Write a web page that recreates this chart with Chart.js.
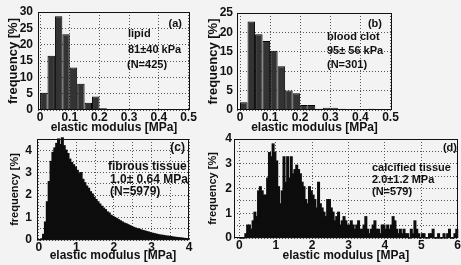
<!DOCTYPE html>
<html>
<head>
<meta charset="utf-8">
<title>Elastic modulus histograms</title>
<script src="https://cdn.jsdelivr.net/npm/chart.js"></script>
<style>
  body { margin: 0; width: 461px; height: 265px; overflow: hidden; position: relative;
         background: #f3f3f3; font-family: "Liberation Sans", Arial, sans-serif; font-weight: bold; color: #111; }
  canvas { position: absolute; }
  .note { position: absolute; font-size: 11px; line-height: 13px; white-space: nowrap; }
  .big { font-size: 12px; }
</style>
</head>
<body>
<canvas id="lipid" width="205" height="135" style="left:0;top:0"></canvas>
<canvas id="clot" width="256" height="135" style="left:205px;top:0"></canvas>
<canvas id="fibrous" width="205" height="133" style="left:0;top:132px"></canvas>
<canvas id="calcified" width="256" height="133" style="left:205px;top:132px"></canvas>

<div class="note" style="right:279px;top:17px">(a)</div>
<div class="note" style="left:128px;top:27px">lipid</div>
<div class="note" style="left:128px;top:43px">81±40 kPa</div>
<div class="note" style="left:127px;top:58px">(N=425)</div>

<div class="note" style="right:79px;top:17px">(b)</div>
<div class="note" style="left:327px;top:30px">blood clot</div>
<div class="note" style="left:327px;top:44px">95± 56 kPa</div>
<div class="note" style="left:327px;top:58px">(N=301)</div>

<div class="note big" style="right:276px;top:141px">(c)</div>
<div class="note big" style="left:108px;top:160px">fibrous tissue</div>
<div class="note big" style="left:110px;top:173px">1.0± 0.64 MPa</div>
<div class="note big" style="left:110px;top:185px">(N=5979)</div>

<div class="note" style="right:4px;top:141px">(d)</div>
<div class="note" style="left:372px;top:161px">calcified tissue</div>
<div class="note" style="left:372px;top:173px">2.0±1.2 MPa</div>
<div class="note" style="left:372px;top:185px">(N=579)</div>

<script>
// frequency [%] per bin
const lipidBin = 0.025;
const lipidFreq = [5.3, 16.6, 28.7, 23.2, 13.0, 8.0, 2.2, 4.1, 0.5];

const clotBin = 0.025;
const clotFreq = [2.0, 22.8, 19.5, 17.8, 15.3, 11.3, 5.0, 4.3, 1.3, 1.3,
                  0.3, 0.6, 0.6, 0.3, 0, 0, 0, 0.3];

const fibrousBin = 0.05;
const fibrousFreq = [
  0, 0.05, 0.25, 0.8, 1.7, 2.6, 3.5, 3.9, 4.1, 4.3,
  4.5, 4.25, 4.55, 4.2, 4.0, 3.85, 3.6, 3.45, 3.35, 3.25,
  3.1, 2.95, 3.0, 2.7, 2.55, 2.4, 2.3, 2.15, 2.05, 1.9,
  1.8, 1.7, 1.6, 1.5, 1.42, 1.35, 1.25, 1.2, 1.1, 1.05,
  1.0, 0.95, 0.9, 0.85, 0.8, 0.75, 0.72, 0.68, 0.64, 0.6,
  0.56, 0.53, 0.5, 0.48, 0.45, 0.42, 0.4, 0.37, 0.35, 0.32,
  0.3, 0.28, 0.26, 0.24, 0.22, 0.21, 0.2, 0.18, 0.17, 0.16,
  0.15, 0.13, 0.12, 0.11, 0.1, 0.09, 0.08, 0.07, 0.06, 0.05
];

const calcifiedBin = 0.05;
const calcifiedFreq = [
  0, 0, 0, 0.17, 0.52, 0.52, 0.35, 0.69, 1.04, 0.86,
  1.9, 2.07, 1.9, 1.73, 1.73, 2.42, 3.45, 3.28, 3.8, 3.45,
  3.11, 2.07, 1.38, 1.9, 3.28, 2.25, 3.28, 2.42, 3.28, 2.59,
  2.76, 2.94, 2.76, 2.59, 2.25, 2.07, 1.55, 1.38, 2.07, 1.9,
  1.73, 1.55, 1.21, 2.25, 1.38, 1.21, 1.04, 0.86, 1.55, 1.55,
  1.21, 1.04, 0.69, 0.86, 1.04, 0.52, 0.69, 0.86, 0.69, 0.52,
  0.52, 0.69, 0.52, 0.35, 0.52, 0.69, 0.35, 0.35, 0.52, 0.86,
  0.35, 0.17, 0.35, 0.52, 0.69, 0.35, 0.35, 0.17, 0.52, 0.52,
  0.35, 0.52, 0.35, 0.52, 0.86, 0.69, 0.35, 0.17, 0.35, 0.17,
  0.35, 0.17, 0.17, 0, 0.35, 0.17, 0.69, 0.35, 0.17, 0,
  0.17, 0.17, 0, 0, 0.17, 0.17, 0.35, 0, 0, 0.17,
  0, 0, 0.17, 0, 0.17, 0.35, 0, 0, 0.17, 0.35
];

// tick positions and labels
const smallXTicks = [0, 0.1, 0.2, 0.3, 0.4, 0.5];
const smallXLabels = ['0', '0.1', '0.2', '0.3', '0.4', '0.5'];
const lipidYTicks = [0, 5, 10, 15, 20, 25, 30];
const lipidYLabels = ['0', '5', '10', '15', '20', '25', '30'];
const clotYTicks = [0, 5, 10, 15, 20, 25];
const clotYLabels = ['0', '5', '10', '15', '20', '25'];
const fibrousXTicks = [0, 0.5, 1, 1.5, 2, 2.5, 3, 3.5, 4];
const fibrousXLabels = ['0', '', '1', '', '2', '', '3', '', '4'];
const fibrousYTicks = [0, 0.5, 1, 1.5, 2, 2.5, 3, 3.5, 4, 4.5];
const fibrousYLabels = ['0', '', '1', '', '2', '', '3', '', '4', ''];
const calcifiedXTicks = [0, 1, 2, 3, 4, 5, 6];
const calcifiedXLabels = ['0', '1', '2', '3', '4', '5', '6'];
const calcifiedYTicks = [0, 0.5, 1, 1.5, 2, 2.5, 3, 3.5, 4];
const calcifiedYLabels = ['0', '', '1', '', '2', '', '3', '', '4'];

const FONT = '"Liberation Sans", Arial, sans-serif';

// box round the plot area
const frame = {
  id: 'frame',
  afterDatasetsDraw(chart) {
    const ctx = chart.ctx, a = chart.chartArea;
    ctx.save();
    ctx.strokeStyle = '#111';
    ctx.lineWidth = 1;
    ctx.strokeRect(Math.round(a.left) + 0.5, Math.round(a.top) + 0.5,
                   Math.round(a.right - a.left) - 1, Math.round(a.bottom - a.top) - 1);
    ctx.restore();
  }
};

// y tick labels, placed through the y scale (chart.js kept dropping some of them)
const yTickText = {
  id: 'yTickText',
  afterDraw(chart, args, opts) {
    const s = chart.scales.y, ctx = chart.ctx;
    ctx.save();
    ctx.font = 'bold 12px ' + FONT;
    ctx.fillStyle = '#111';
    ctx.textAlign = 'right';
    ctx.textBaseline = 'middle';
    opts.ticks.forEach((v, i) => {
      if (opts.labels[i]) ctx.fillText(opts.labels[i], s.right - opts.pad, s.getPixelForValue(v));
    });
    ctx.restore();
  }
};

function histogram(id, freq, bin, p) {
  const canvas = document.getElementById(id);
  const w = canvas.width, h = canvas.height;
  const data = freq.map((v, i) => ({ x: (i + 0.5) * bin, y: v }));
  new Chart(canvas, {
    type: 'bar',
    data: {
      datasets: [{
        data: data,
        backgroundColor: p.fill,
        borderColor: '#000',
        borderWidth: p.edge,
        borderSkipped: 'start',
        inflateAmount: p.edge ? 0 : 0.6,
        barPercentage: 1,
        categoryPercentage: 1,
        clip: false
      }]
    },
    options: {
      responsive: false,
      animation: false,
      layout: { padding: { left: 0, top: p.area.top, right: w - p.area.right, bottom: 0 } },
      plugins: {
        legend: { display: false },
        tooltip: { enabled: false },
        yTickText: { ticks: p.yTicks, labels: p.yLabels, pad: p.yTickPad }
      },
      scales: {
        x: {
          type: 'linear', offset: false,
          min: p.xMin, max: p.xMax,
          afterBuildTicks: s => { s.ticks = p.xTicks.map(v => ({ value: v })); },
          afterFit: s => { s.height = h - p.area.bottom; },
          ticks: { autoSkip: false, maxRotation: 0, padding: 0, color: '#111',
                   font: { family: FONT, size: 12, weight: 'bold' },
                   callback: (v, i) => p.xLabels[i] },
          grid: { color: '#555', lineWidth: 1, drawTicks: false, offset: false },
          border: { display: false, dash: [1, 2] },
          title: { display: true, text: 'elastic modulus [MPa]', color: '#111',
                   font: { family: FONT, size: 12, weight: 'bold' },
                   padding: { top: 0, bottom: p.xTitlePad } }
        },
        y: {
          min: 0, max: p.yMax,
          afterBuildTicks: s => { s.ticks = p.yTicks.map(v => ({ value: v })); },
          afterFit: s => { s.width = p.area.left; },
          ticks: { display: false, autoSkip: false },
          grid: { color: '#555', lineWidth: 1, drawTicks: false },
          border: { display: false, dash: [1, 2] },
          title: { display: true, text: 'frequency [%]', color: '#111',
                   font: { family: FONT, size: p.yTitleSize, weight: 'bold' },
                   padding: { top: p.yTitlePad, bottom: 0 } }
        }
      }
    },
    plugins: [frame, yTickText]
  });
}

histogram('lipid', lipidFreq, lipidBin, {
  area: { left: 38, right: 190, top: 12, bottom: 110 },
  xMin: -0.007, xMax: 0.505, yMax: 30,
  xTicks: smallXTicks, xLabels: smallXLabels, yTicks: lipidYTicks, yLabels: lipidYLabels,
  fill: '#333', edge: 1, xTitlePad: 0, yTickPad: 5, yTitleSize: 13, yTitlePad: 6
});

histogram('clot', clotFreq, clotBin, {
  area: { left: 32, right: 187, top: 13, bottom: 110 },
  xMin: -0.01, xMax: 0.505, yMax: 25,
  xTicks: smallXTicks, xLabels: smallXLabels, yTicks: clotYTicks, yLabels: clotYLabels,
  fill: '#333', edge: 1, xTitlePad: 0, yTickPad: 4, yTitleSize: 13, yTitlePad: 1
});

histogram('fibrous', fibrousFreq, fibrousBin, {
  area: { left: 37, right: 189, top: 7, bottom: 108 },
  xMin: -0.05, xMax: 4, yMax: 4.5,
  xTicks: fibrousXTicks, xLabels: fibrousXLabels, yTicks: fibrousYTicks, yLabels: fibrousYLabels,
  fill: '#0d0d0d', edge: 0, xTitlePad: 2, yTickPad: 5, yTitleSize: 11, yTitlePad: 8
});

histogram('calcified', calcifiedFreq, calcifiedBin, {
  area: { left: 29, right: 254, top: 7, bottom: 106 },
  xMin: -0.15, xMax: 6, yMax: 4,
  xTicks: calcifiedXTicks, xLabels: calcifiedXLabels, yTicks: calcifiedYTicks, yLabels: calcifiedYLabels,
  fill: '#0d0d0d', edge: 0, xTitlePad: 2, yTickPad: 2, yTitleSize: 11, yTitlePad: 1
});
</script>
</body>
</html>
